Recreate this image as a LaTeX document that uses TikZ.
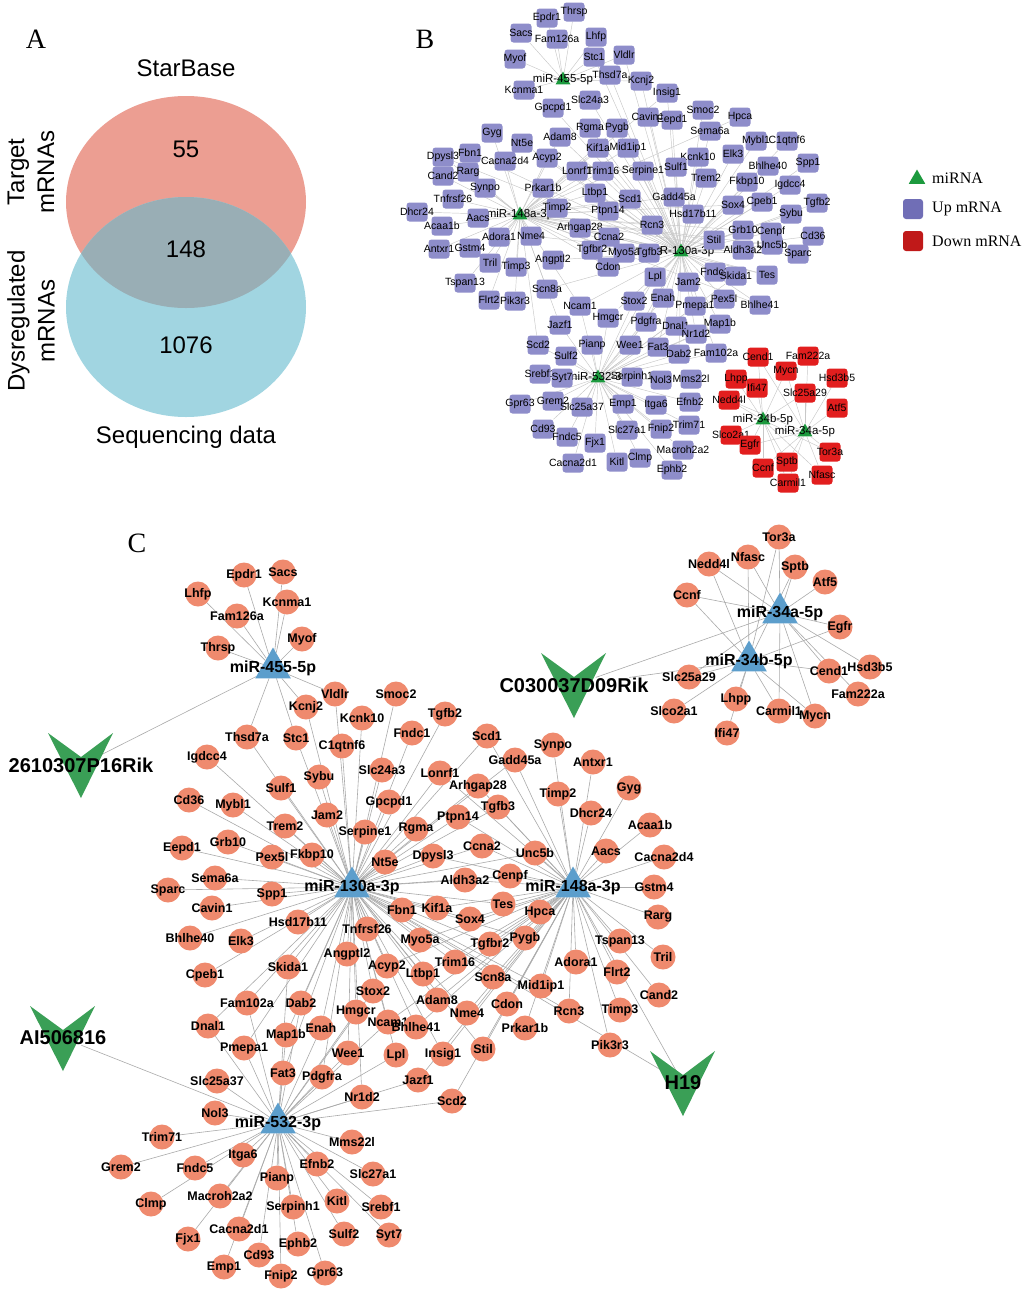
\documentclass[tikz,border=0pt]{standalone}
\usepackage{fontspec}
\setmainfont{Liberation Serif}
\setsansfont{Liberation Sans}
\usepackage{tikz}
\usetikzlibrary{shapes.geometric}
\pgfdeclarelayer{background}
\pgfsetlayers{background,main}
\definecolor{venn_red}{RGB}{236,158,146}
\definecolor{venn_blue}{RGB}{161,213,225}
\definecolor{venn_mid}{RGB}{153,174,181}
\definecolor{up_purple}{RGB}{142,141,202}
\definecolor{up_legend}{RGB}{112,110,182}
\definecolor{down_red}{RGB}{226,30,30}
\definecolor{mir_green}{RGB}{28,154,62}
\definecolor{mir_blue}{RGB}{92,158,204}
\definecolor{mrna_salmon}{RGB}{239,138,110}
\definecolor{lnc_green}{RGB}{58,159,86}
\definecolor{edge_lightgray}{RGB}{200,200,200}
\definecolor{edge_gray}{RGB}{170,170,170}

% targets of each miRNA (shared by panels B and C)
\newcommand{\tgtmirfive}{Epdr1,Sacs,Lhfp,Kcnma1,Fam126a,Myof,Thrsp,Vldlr,Kcnj2,Thsd7a,Stc1}
\newcommand{\tgtmirthirty}{Vldlr,Kcnj2,Thsd7a,Stc1,Smoc2,Kcnk10,Tgfb2,C1qtnf6,Fndc1,Igdcc4,Sybu,Slc24a3,Sulf1,Cd36,Mybl1,Gpcpd1,Jam2,Trem2,Serpine1,Rgma,Eepd1,Grb10,Pex5l,Fkbp10,Nt5e,Dpysl3,Sema6a,Sparc,Spp1,Cavin1,Aldh3a2,Hsd17b11,Fbn1,Kif1a,Sox4,Bhlhe40,Elk3,Cpeb1,Skida1,Tnfrsf26,Myo5a,Angptl2,Acyp2,Trim16,Ltbp1,Stox2,Adam8,Fam102a,Dab2,Hmgcr,Ncam1,Dnal1,Map1b,Enah,Pmepa1,Wee1,Lpl,Insig1,Fat3,Pdgfra,Nr1d2,Lonrf1,Arhgap28,Ptpn14,Ccna2,Tgfb3,Cenpf,Tes,Tgfbr2,Pygb,Scn8a,Bhlhe41,Nme4,Stil,Gadd45a,Scd1,Unc5b,Rcn3,Mid1ip1}
\newcommand{\tgtmirforty}{Scd1,Gadd45a,Synpo,Antxr1,Gyg,Arhgap28,Timp2,Tgfb3,Dhcr24,Acaa1b,Ptpn14,Ccna2,Unc5b,Aacs,Cacna2d4,Gstm4,Rarg,Cenpf,Tes,Hpca,Pygb,Tgfbr2,Tspan13,Tril,Adora1,Flrt2,Cand2,Mid1ip1,Timp3,Rcn3,Pik3r3,Prkar1b,Cdon,Nme4,Adam8,Scn8a,Trim16,Ltbp1,Sox4,Kif1a,Aldh3a2,Dpysl3,Lonrf1,Stil,Insig1,Jazf1,Scd2,Bhlhe41,Ncam1,Acyp2,Myo5a}
\newcommand{\tgtmirfivethree}{Slc25a37,Nol3,Trim71,Mms22l,Grem2,Itga6,Fndc5,Efnb2,Slc27a1,Pianp,Macroh2a2,Clmp,Serpinh1,Kitl,Srebf1,Cacna2d1,Sulf2,Syt7,Fjx1,Ephb2,Cd93,Emp1,Fnip2,Gpr63,Fat3,Pdgfra,Nr1d2,Scd2,Jazf1,Wee1,Lpl,Pmepa1,Map1b,Dnal1,Fam102a,Dab2,Enah,Hmgcr,Ncam1,Stox2,Skida1}
\newcommand{\tgtmirfoura}{Tor3a,Nedd4l,Nfasc,Sptb,Atf5,Ccnf,Egfr,Hsd3b5,Fam222a,Mycn,Carmil1,Cend1,Slc25a29}
\newcommand{\tgtmirfourb}{Nedd4l,Nfasc,Sptb,Tor3a,Egfr,Cend1,Slc25a29,Slco2a1,Lhpp,Carmil1,Mycn,Ifi47,Ccnf}

% lncRNA: green V with its name on it
\newcommand{\lncnode}[3]{%
  \fill[lnc_green, shift={(#2)}] (-33,-32) -- (0,-8) -- (32,-32) -- (0,33) -- cycle;
  \node[lnclab] (#1) at (#2) {#3};}

\begin{document}
\begin{tikzpicture}[x=1pt,y=-1pt]
    \tikzstyle{letter}=[font=\rmfamily\fontsize{28}{28}\selectfont, inner sep=0pt]
    \tikzstyle{vtext}=[font=\sffamily\fontsize{24}{30}\selectfont, inner sep=0pt]
    \tikzstyle{legtext}=[font=\rmfamily\fontsize{16}{16}\selectfont, anchor=west, inner sep=0pt]
    \tikzstyle{upsq}=[rectangle, fill=up_purple, rounded corners=3pt, minimum width=21pt, minimum height=19pt, inner sep=0pt]
    \tikzstyle{downsq}=[upsq, fill=down_red]
    \tikzstyle{blab}=[font=\sffamily\fontsize{10.5}{11}\selectfont, inner sep=0pt]
    \tikzstyle{mirb}=[regular polygon, regular polygon sides=3, fill=mir_green, minimum size=17pt, inner sep=0pt]
    \tikzstyle{bhub}=[font=\sffamily\fontsize{11.5}{12}\selectfont, inner sep=0pt]
    \tikzstyle{mrnac}=[circle, fill=mrna_salmon, minimum size=25pt, inner sep=0pt]
    \tikzstyle{clab}=[font=\sffamily\bfseries\fontsize{12.5}{13}\selectfont, inner sep=0pt]
    \tikzstyle{mirc}=[regular polygon, regular polygon sides=3, fill=mir_blue, minimum size=41pt, inner sep=0pt]
    \tikzstyle{chub}=[font=\sffamily\bfseries\fontsize{16}{17}\selectfont, inner sep=0pt]
    \tikzstyle{lnclab}=[font=\sffamily\bfseries\fontsize{20}{22}\selectfont, inner sep=0pt]
    \tikzstyle{edgeb}=[draw=edge_lightgray, line width=0.45pt]
    \tikzstyle{edgec}=[draw=edge_gray, line width=0.6pt]

    \begin{pgfonlayer}{background}
      \fill[white] (0,0) rectangle (1024,1291);
    \end{pgfonlayer}
    \useasboundingbox (0,0) rectangle (1024,1291);

    % A: Venn diagram
    \node[letter] (la) at (36,39) {A};
    \fill[venn_red] (186,202) ellipse [x radius=120pt, y radius=106pt];
    \fill[venn_blue] (186,307) ellipse [x radius=120pt, y radius=110pt];
    \begin{scope}
      \clip (186,202) ellipse [x radius=120pt, y radius=106pt];
      \fill[venn_mid] (186,307) ellipse [x radius=120pt, y radius=110pt];
    \end{scope}
    \node[vtext] (vstar) at (186,68) {StarBase};
    \node[vtext] (vtop) at (186,149) {55};
    \node[vtext] (vmid) at (186,249) {148};
    \node[vtext] (vbot) at (186,345) {1076};
    \node[vtext] (vseq) at (186,437) {Sequencing data};
    \node[vtext, rotate=90, align=center] (vtgt) at (31,172) {Target\\mRNAs};
    \node[vtext, rotate=90, align=center] (vdys) at (31,321) {Dysregulated\\mRNAs};

    % B: network with squares
    \node[letter] (lb) at (425,39) {B};
    \node[mirb, label={[bhub]center:miR-455-5p}] (b455) at (563,80) {};
    \node[mirb, label={[bhub]center:miR-148a-3p}] (b148) at (520,215) {};
    \node[mirb, label={[bhub]center:miR-130a-3p}] (b130) at (681,252) {};
    \node[mirb, label={[bhub]center:miR-532-3p}] (b532) at (598,378) {};
    \node[mirb, label={[bhub]center:miR-34b-5p}] (b34b) at (763,420) {};
    \node[mirb, label={[bhub]center:miR-34a-5p}] (b34a) at (805,432) {};

    \foreach \n/\x/\y in {Thrsp/574/12, Epdr1/547/18, Sacs/521/33, Fam126a/557/39, Lhfp/596/37,
      Myof/515/59, Stc1/594/57, Vldlr/624/55, Thsd7a/610/75, Kcnj2/641/81, Kcnma1/524/90,
      Insig1/667/93, Slc24a3/590/100, Gpcpd1/553/108, Smoc2/703/110, Cavin1/648/117, Eepd1/672/120,
      Hpca/740/117, Sema6a/710/131, Mybl1/756/141, C1qtnf6/787/141, Gyg/492/133, Adam8/560/137,
      Rgma/590/128, Pygb/617/128, Nt5e/522/143, Kif1a/598/148, Mid1ip1/628/148, Fbn1/470/153,
      Dpysl3/443/157, Cacna2d4/505/161, Acyp2/547/158, Kcnk10/698/157, Elk3/733/154, Bhlhe40/768/166,
      Spp1/808/163, Cand2/443/176, Rarg/468/172, Lonrf1/577/171, Trim16/603/171, Serpine1/643/171,
      Sulf1/676/167, Trem2/706/178, Fkbp10/747/182, Igdcc4/790/185, Synpo/485/188, Prkar1b/543/188,
      Ltbp1/595/193, Scd1/630/199, Gadd45a/674/197, Tnfrsf26/453/199, Sox4/733/205, Cpeb1/762/202,
      Tgfb2/817/203, Sybu/791/214, Dhcr24/417/212, Timp2/557/208, Ptpn14/608/211, Hsd17b11/693/214,
      Acaa1b/442/226, Aacs/478/218, Rcn3/652/225, Grb10/743/230, Cenpf/771/232, Cd36/813/236,
      Arhgap28/580/228, Adora1/499/237, Nme4/531/236, Ccna2/609/237, Stil/714/240, Aldh3a2/743/250,
      Unc5b/772/245, Sparc/798/254, Antxr1/439/249, Gstm4/470/248, Tgfbr2/592/250, Myo5a/624/253,
      Tgfb3/649/253, Tril/490/263, Timp3/516/267, Angptl2/553/260, Cdon/608/267, Lpl/655/277,
      Jam2/688/282, Fndc1/715/272, Skida1/736/276, Tes/767/275, Tspan13/465/283, Scn8a/547/289,
      Flrt2/489/300, Pik3r3/515/301, Ncam1/580/306, Stox2/634/301, Enah/663/298, Pmepa1/695/306,
      Pex5l/724/299, Bhlhe41/760/305, Hmgcr/608/318, Jazf1/560/325, Pdgfra/646/322, Dnal1/676/326,
      Map1b/720/324, Nr1d2/696/334, Scd2/538/345, Pianp/592/345, Wee1/630/345, Fat3/658/347,
      Dab2/679/354, Fam102a/716/353, Sulf2/566/356, Srebf1/540/374, Syt7/562/378, Serpinh1/632/377,
      Nol3/661/380, Mms22l/691/379, Gpr63/520/404, Grem2/553/401, Slc25a37/582/407, Emp1/623/404,
      Itga6/656/405, Efnb2/690/402, Cd93/543/429, Fndc5/567/437, Fjx1/595/443, Slc27a1/627/430,
      Fnip2/661/429, Trim71/689/425, Macroh2a2/683/450, Cacna2d1/573/463, Kitl/617/462,
      Clmp/640/458, Ephb2/672/470}
      \node[upsq, label={[blab]center:\n}] (b-\n) at (\x,\y) {};
    \foreach \n/\x/\y in {Cend1/758/357, Fam222a/808/356, Mycn/786/371, Hsd3b5/837/378,
      Lhpp/736/379, Ifi47/757/388, Slc25a29/805/393, Nedd4l/729/400, Atf5/837/408,
      Slco2a1/731/435, Egfr/750/445, Tor3a/830/452, Ccnf/763/468, Sptb/787/462,
      Nfasc/822/475, Carmil1/788/483}
      \node[downsq, label={[blab]center:\n}] (b-\n) at (\x,\y) {};

    \begin{pgfonlayer}{background}
      \foreach \g in \tgtmirfive \draw[edgeb] (b455) -- (b-\g);
      \foreach \g in \tgtmirthirty \draw[edgeb] (b130) -- (b-\g);
      \foreach \g in \tgtmirforty \draw[edgeb] (b148) -- (b-\g);
      \foreach \g in \tgtmirfivethree \draw[edgeb] (b532) -- (b-\g);
      \foreach \g in \tgtmirfoura \draw[edgeb] (b34a) -- (b-\g);
      \foreach \g in \tgtmirfourb \draw[edgeb] (b34b) -- (b-\g);
    \end{pgfonlayer}

    % legend
    \node[mirb, minimum size=19pt] (legmir) at (917,179) {};
    \node[upsq, fill=up_legend, minimum width=20pt, minimum height=20pt] (legup) at (913,209) {};
    \node[downsq, fill=down_red!85!black, minimum width=20pt, minimum height=20pt] (legdown) at (913,241) {};
    \node[legtext] (legmirt) at (932,178) {miRNA};
    \node[legtext] (leguptext) at (932,209) {Up mRNA};
    \node[legtext] (legdowntext) at (932,241) {Down mRNA};

    % C: network with lncRNAs
    \node[letter] (lc) at (137,543) {C};
    \lncnode{v2610}{81,765}{2610307P16Rik}
    \lncnode{vc030}{574,685}{C030037D09Rik}
    \lncnode{vai}{63,1038}{AI506816}
    \lncnode{vh19}{683,1083}{H19}

    \node[mirc, label={[chub]center:miR-455-5p}] (c455) at (273,668) {};
    \node[mirc, label={[chub]center:miR-130a-3p}] (c130) at (352,887) {};
    \node[mirc, label={[chub]center:miR-148a-3p}] (c148) at (573,887) {};
    \node[mirc, label={[chub]center:miR-532-3p}] (c532) at (278,1123) {};
    \node[mirc, label={[chub]center:miR-34a-5p}] (c34a) at (780,613) {};
    \node[mirc, label={[chub]center:miR-34b-5p}] (c34b) at (749,661) {};

    \foreach \n/\x/\y in {Epdr1/244/575, Sacs/283/572, Lhfp/198/594, Kcnma1/287/602, Fam126a/237/616,
      Myof/302/639, Thrsp/218/648, Vldlr/335/694, Smoc2/396/694, Kcnj2/306/707, Kcnk10/362/718,
      Tgfb2/445/714, Thsd7a/247/737, Stc1/296/738, C1qtnf6/342/746, Fndc1/412/733, Scd1/487/736,
      Igdcc4/207/757, Sybu/319/777, Slc24a3/382/770, Lonrf1/440/773, Gadd45a/515/760, Synpo/553/745,
      Antxr1/593/762, Sulf1/281/788, Arhgap28/478/786, Timp2/558/794, Gyg/629/788, Cd36/189/800,
      Mybl1/233/805, Gpcpd1/389/802, Tgfb3/498/807, Dhcr24/591/813, Jam2/327/815, Trem2/285/826,
      Ptpn14/458/817, Acaa1b/650/825, Serpine1/365/832, Rgma/416/829, Eepd1/182/848, Grb10/228/842,
      Pex5l/272/857, Fkbp10/312/855, Nt5e/385/862, Dpysl3/433/856, Ccna2/482/846, Unc5b/535/853,
      Aacs/606/851, Cacna2d4/664/857, Sema6a/215/878, Sparc/168/890, Spp1/272/894, Cavin1/212/908,
      Aldh3a2/465/880, Cenpf/510/876, Gstm4/654/887, Hsd17b11/298/922, Fbn1/402/910, Kif1a/437/908,
      Tes/503/904, Hpca/540/912, Sox4/470/919, Rarg/658/917, Bhlhe40/190/938, Elk3/241/941,
      Tnfrsf26/367/929, Myo5a/420/940, Tgfbr2/490/944, Pygb/525/938, Tspan13/620/941,
      Angptl2/347/954, Trim16/455/962, Acyp2/387/966, Skida1/288/967, Adora1/576/962, Tril/663/957,
      Cpeb1/205/975, Ltbp1/423/974, Scn8a/493/977, Flrt2/617/972, Mid1ip1/541/986, Stox2/373/991,
      Fam102a/247/1003, Dab2/301/1003, Adam8/437/1000, Cdon/507/1004, Cand2/659/995, Rcn3/569/1011,
      Timp3/620/1010, Nme4/467/1013, Hmgcr/356/1012, Ncam1/388/1022, Bhlhe41/416/1027,
      Dnal1/208/1026, Map1b/286/1035, Enah/321/1028, Prkar1b/525/1028, Pik3r3/610/1045,
      Pmepa1/244/1048, Wee1/348/1053, Lpl/396/1055, Insig1/443/1054, Stil/483/1049,
      Slc25a37/217/1081, Fat3/283/1073, Pdgfra/322/1077, Jazf1/418/1080, Nr1d2/362/1097,
      Scd2/452/1101, Nol3/215/1113, Trim71/162/1137, Mms22l/352/1142, Grem2/121/1167,
      Itga6/243/1155, Fndc5/195/1168, Efnb2/317/1164, Slc27a1/373/1174, Pianp/277/1178,
      Macroh2a2/220/1196, Clmp/151/1204, Serpinh1/293/1207, Kitl/337/1201, Srebf1/381/1207,
      Cacna2d1/239/1229, Sulf2/344/1234, Syt7/389/1235, Fjx1/188/1239, Ephb2/298/1244,
      Cd93/259/1255, Emp1/224/1267, Fnip2/281/1276, Gpr63/325/1273,
      Tor3a/779/537, Nedd4l/709/564, Nfasc/748/557, Sptb/795/567, Atf5/825/582, Ccnf/687/595,
      Egfr/840/627, Slc25a29/689/677, Cend1/829/671, Hsd3b5/870/667, Fam222a/858/694,
      Slco2a1/674/711, Lhpp/736/699, Carmil1/779/711, Mycn/815/716, Ifi47/727/733}
      \node[mrnac, label={[clab]center:\n}] (c-\n) at (\x,\y) {};

    \begin{pgfonlayer}{background}
      \foreach \g in \tgtmirfive \draw[edgec] (c455) -- (c-\g);
      \foreach \g in \tgtmirthirty \draw[edgec] (c130) -- (c-\g);
      \foreach \g in \tgtmirforty \draw[edgec] (c148) -- (c-\g);
      \foreach \g in \tgtmirfivethree \draw[edgec] (c532) -- (c-\g);
      \foreach \g in \tgtmirfoura \draw[edgec] (c34a) -- (c-\g);
      \foreach \g in \tgtmirfourb \draw[edgec] (c34b) -- (c-\g);
      \draw[edgec] (v2610) -- (c455);
      \draw[edgec] (vc030) -- (c34a);
      \draw[edgec] (vc030) -- (c34b);
      \draw[edgec] (vai) -- (c532);
      \draw[edgec] (vh19) -- (c148);
      \draw[edgec] (vh19) -- (c130);
    \end{pgfonlayer}
\end{tikzpicture}
\end{document}
